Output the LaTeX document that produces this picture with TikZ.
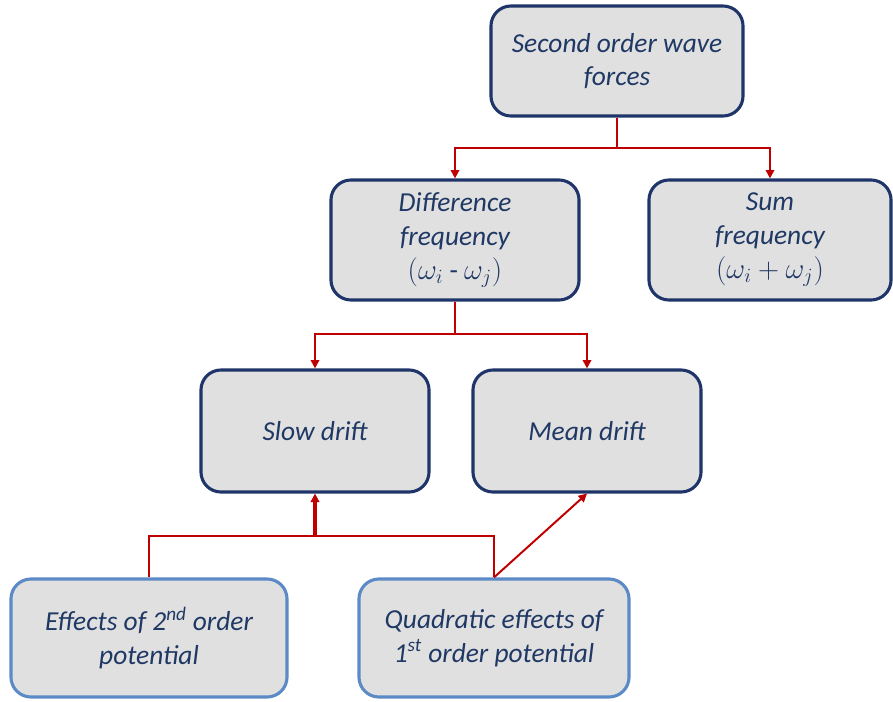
\documentclass[tikz,border=0pt]{standalone}
\usepackage{fontspec}
\setmainfont{Carlito}
\usetikzlibrary{arrows.meta}
\definecolor{WaveText}{HTML}{1F3864}
\definecolor{WaveFill}{HTML}{E0E0E0}
\definecolor{WaveEdge}{HTML}{1F3468}
\definecolor{WaveEdgeLight}{HTML}{5B8AC6}
\definecolor{WaveLink}{HTML}{C00000}

\begin{document}
\begin{tikzpicture}[x=0.025cm, y=-0.025cm,
        box/.style={draw=WaveEdge, fill=WaveFill, line width=2.2pt, rounded corners=5mm, text=WaveText, align=center, font=\fontsize{19.5}{24}\selectfont\itshape, inner sep=0pt},
        srcbox/.style={box, draw=WaveEdgeLight},
        link/.style={draw=WaveLink, line width=1.4pt},
        conn/.style={link, -{Triangle[length=6pt, width=6pt]}}
    ]
        \useasboundingbox (0,0) rectangle (893,702);

        % Force levels
        \node[box, minimum width=6.3cm, minimum height=2.75cm] (forces) at (617,61) {Second order wave\\forces};
        \node[box, minimum width=6.2cm, minimum height=3cm] (diff) at (455,240) {Difference\\frequency\\\upshape$(\omega_i$ - $\omega_j)$};
        \node[box, minimum width=6.05cm, minimum height=3cm] (sum) at (770,240) {Sum\\frequency\\\upshape$(\omega_i+\omega_j)$};

        % Drift levels
        \node[box, minimum width=5.7cm, minimum height=3.05cm] (slow) at (315,431) {Slow drift};
        \node[box, minimum width=5.7cm, minimum height=3.05cm] (mean) at (587,431) {Mean drift};

        % Potential sources
        \node[srcbox, minimum width=6.9cm, minimum height=2.95cm] (second) at (149,638) {Effects of 2\textsuperscript{nd} order\\potential};
        \node[srcbox, minimum width=6.75cm, minimum height=2.95cm] (quad) at (494,638) {Quadratic effects of\\1\textsuperscript{st} order potential};

        \coordinate (fsplit) at (617,148);
        \coordinate (dsplit) at (455,334);
        \coordinate (pjoin) at (315,536);
        \coordinate (qjoin) at (494,536);

        % Connections
        \draw[link] (forces.south) -- (fsplit);
        \draw[conn] (fsplit) -| (diff.north);
        \draw[conn] (fsplit) -| (sum.north);
        \draw[link] (diff.south) -- (dsplit);
        \draw[conn] (dsplit) -| (slow.north);
        \draw[conn] (dsplit) -| (mean.north);
        \draw[link] (second.north) |- (qjoin) -- (quad.north);
        \draw[conn, line width=2.2pt] (pjoin) -- (slow.south);
        \draw[conn] (quad.north) -- (mean.south);
\end{tikzpicture}
\end{document}
